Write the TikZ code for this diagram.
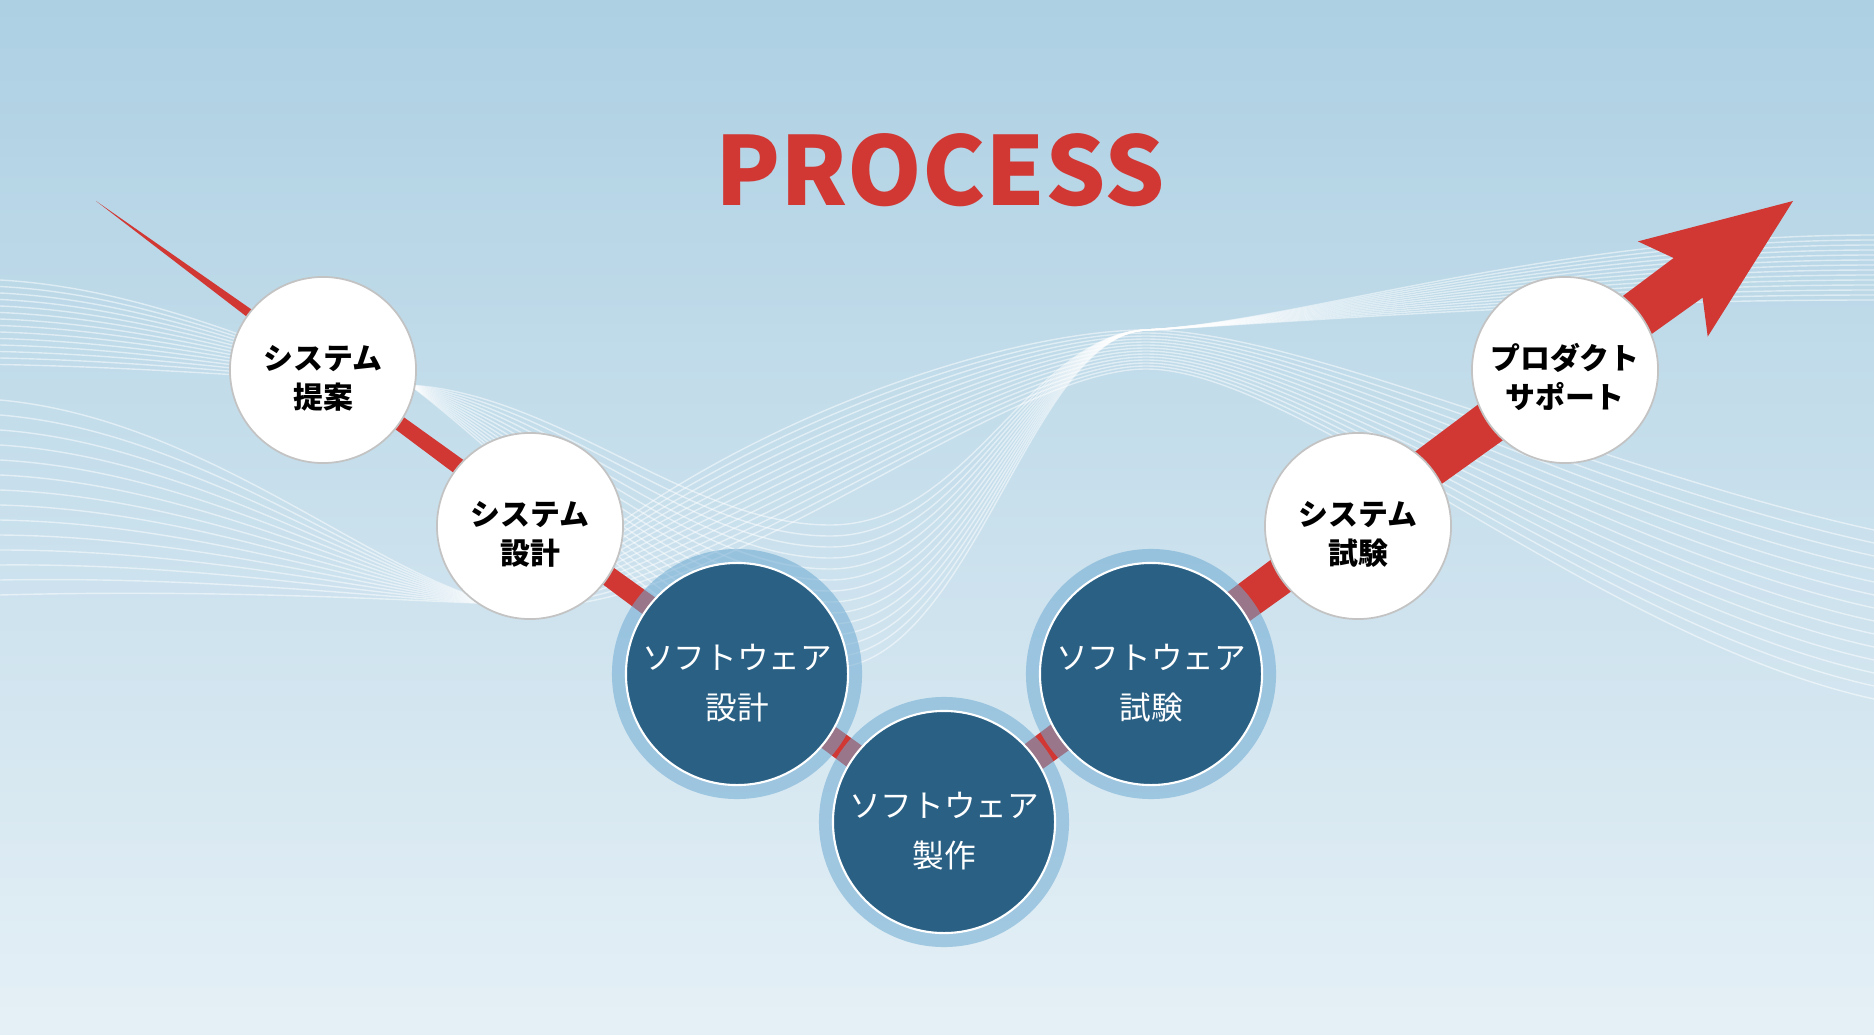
\documentclass[tikz,border=0pt]{standalone}
\usepackage{fontspec}
\newfontfamily\jpfont{Noto Sans CJK JP}
\usetikzlibrary{calc}

\definecolor{bgtop}{RGB}{173,208,227}
\definecolor{bgbot}{RGB}{229,240,246}
\definecolor{arrowred}{RGB}{209,55,51}
\definecolor{swblue}{RGB}{42,96,132}
\definecolor{ringblue}{RGB}{110,170,210}
\definecolor{edgegray}{RGB}{195,195,195}

% two lines of a step, set a little low in the circle
\newcommand\steptext[2]{\rule{0pt}{1.35em}#1\\#2}

\begin{document}
\begin{tikzpicture}[x=0.01cm, y=-0.01cm]
    % looks of the steps
    \tikzset{sysstep/.style={circle, minimum size=1.86cm, inner sep=0pt,
            fill=white, draw=edgegray, line width=0.5pt, align=center,
            font=\jpfont\bfseries\fontsize{8.5}{11.2}\selectfont},
        swstep/.style={circle, minimum size=2.22cm, inner sep=0pt,
            fill=swblue, draw=white, line width=0.6pt, text=white, align=center,
            font=\jpfont\fontsize{9}{14.2}\selectfont,
            preaction={draw=ringblue, draw opacity=.55, line width=0.28cm}},
        wave/.style={white, opacity=.5, line width=0.4pt}}
    \path[use as bounding box] (0,0) rectangle (1874,1034);
    \clip (0,0) rectangle (1874,1034);
    \shade[top color=bgtop, bottom color=bgbot] (0,0) rectangle (1874,1034);
    % the two white ribbons
    \foreach \i in {0,...,13} {
        \draw[wave] (0,{280+6.5*\i}) .. controls (180,{290+6*\i}) and (330,383) .. (410,385)
            .. controls (560,{395+8*\i}) and (690,{525+11*\i}) .. (830,{525+11*\i})
            .. controls (970,{525+11*\i}) and (1030,335) .. (1146,330)
            .. controls (1300,322) and (1550,{235+5*\i}) .. (1874,{235+5*\i});
        \draw[wave] (0,{400+15*\i}) .. controls (220,{420+13*\i}) and (400,600) .. (520,605)
            .. controls (700,{430+15*\i}) and (1000,{330+3*\i}) .. (1146,{330+3*\i})
            .. controls (1300,{330+3*\i}) and (1600,{470+13*\i}) .. (1874,{530+13*\i});
    }
    % the red arrow, thin at the start
    \coordinate (start) at (96,201);
    \coordinate (tip) at (1793,201);
    \fill[arrowred] (start) -- (328.2,363.0) -- (944,804.6) -- (1673.6,258.0)
        -- (1637.9,241.4) -- (tip) -- (1707.7,336.6) -- (1702.6,297.6)
        -- (944,839.4) -- (320.6,373.4) -- cycle;
    \node[sysstep] (sysprop) at (323,370) {\steptext{システム}{提案}};
    \node[sysstep] (sysdesign) at (530,526) {\steptext{システム}{設計}};
    \node[swstep] (swdesign) at (737,674) {\steptext{ソフトウェア}{設計}};
    \node[swstep] (swtest) at (1151,674) {\steptext{ソフトウェア}{試験}};
    \node[swstep] (swmake) at (944,822) {\steptext{ソフトウェア}{製作}};
    \node[sysstep] (systest) at (1358,526) {\steptext{システム}{試験}};
    \node[sysstep] (support) at (1565,370) {\steptext{プロダクト}{サポート}};
    \node[text=arrowred, font=\jpfont\bfseries\fontsize{27}{27}\selectfont]
        (title) at (940,170) {PROCESS};
\end{tikzpicture}
\end{document}
